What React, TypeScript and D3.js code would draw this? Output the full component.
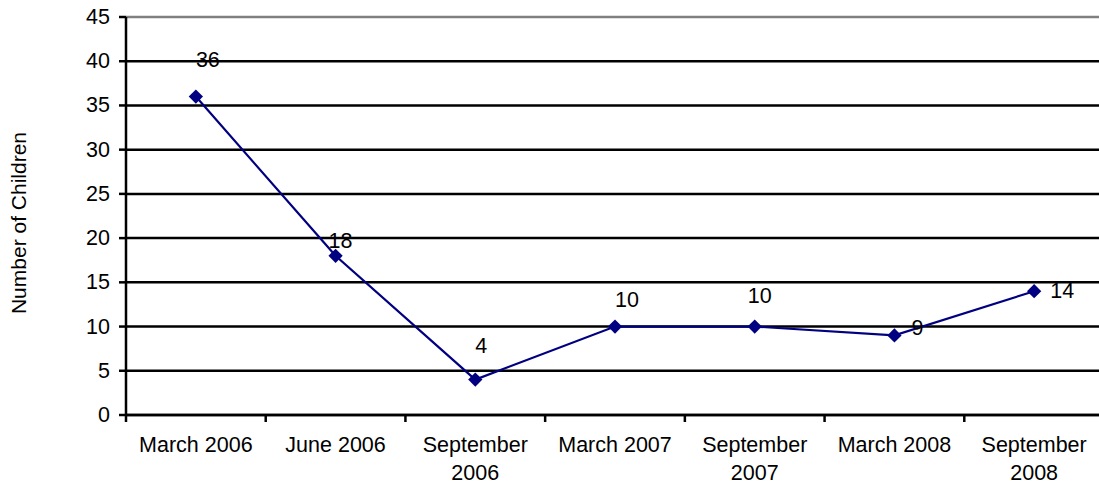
import React from "react";
import * as d3 from "d3";

const categories: string[][] = [
  ["March 2006"],
  ["June 2006"],
  ["September", "2006"],
  ["March 2007"],
  ["September", "2007"],
  ["March 2008"],
  ["September", "2008"],
];
const values: number[] = [36, 18, 4, 10, 10, 9, 14];
const labelDx: number[] = [12, 5, 6, 12, 5, 23, 28];
const labelDy: number[] = [-37, -15, -34, -27, -31, -7, 0];
const yTicks: number[] = [0, 5, 10, 15, 20, 25, 30, 35, 40, 45];
const yTitle = "Number of Children";

const W = 1099;
const H = 487;
const left = 126;
const right = 1104;
const top = 17;
const bottom = 415;
const font = "'Liberation Sans', Arial, sans-serif";
const fs = 21.5;
const navy = "#000080";

export default function App() {
  const x = d3
    .scaleBand<number>()
    .domain(values.map((_, i) => i))
    .range([left, right]);
  const y = d3.scaleLinear().domain([0, 45]).range([bottom, top]);
  const cx = (i: number) => (x(i) as number) + x.bandwidth() / 2;
  const line = d3
    .line<number>()
    .x((_, i) => cx(i))
    .y((d) => y(d));
  const diamond = d3.symbol().type(d3.symbolDiamond2).size(130)();
  const edges = d3.range(categories.length + 1).map((i) =>
    i < categories.length ? (x(i) as number) : (x(i - 1) as number) + x.bandwidth()
  );

  return (
    <svg
      width={W}
      height={H}
      style={{ position: "absolute", left: 0, top: 0, background: "#fff" }}
      fontFamily={font}
      fontSize={fs}
    >
      {yTicks.map((t) => (
        <line
          key={"g" + t}
          x1={left}
          x2={right}
          y1={y(t)}
          y2={y(t)}
          stroke={t === 45 ? "#808080" : "#000"}
          strokeWidth={2.5}
        />
      ))}
      {yTicks.map((t) => (
        <g key={"t" + t}>
          <line x1={119} x2={left} y1={y(t)} y2={y(t)} stroke="#000" strokeWidth={2.5} />
          <text x={110} y={y(t)} textAnchor="end" dominantBaseline="central" fill="#000">
            {t}
          </text>
        </g>
      ))}
      <line x1={left} x2={left} y1={top} y2={bottom + 1} stroke="#000" strokeWidth={2.5} />
      <line x1={left} x2={right} y1={bottom} y2={bottom} stroke="#000" strokeWidth={2.5} />
      {edges.map((e, i) => (
        <line key={"xt" + i} x1={e} x2={e} y1={bottom} y2={bottom + 7} stroke="#000" strokeWidth={2.5} />
      ))}
      {categories.map((c, i) => (
        <text key={"xl" + i} x={cx(i)} y={452} textAnchor="middle" fill="#000">
          {c.map((ln, j) => (
            <tspan key={j} x={cx(i)} dy={j === 0 ? 0 : 28}>
              {ln}
            </tspan>
          ))}
        </text>
      ))}
      <text
        transform={`translate(26,223) rotate(-90)`}
        textAnchor="middle"
        fill="#000"
        fontSize={21}
      >
        {yTitle}
      </text>
      <path d={line(values) as string} fill="none" stroke={navy} strokeWidth={2.2} />
      {values.map((v, i) => (
        <path key={"m" + i} d={diamond as string} transform={`translate(${cx(i)},${y(v)})`} fill={navy} />
      ))}
      {values.map((v, i) => (
        <text
          key={"l" + i}
          x={cx(i) + labelDx[i]}
          y={y(v) + labelDy[i]}
          textAnchor="middle"
          dominantBaseline="central"
          fill="#000"
        >
          {v}
        </text>
      ))}
    </svg>
  );
}
